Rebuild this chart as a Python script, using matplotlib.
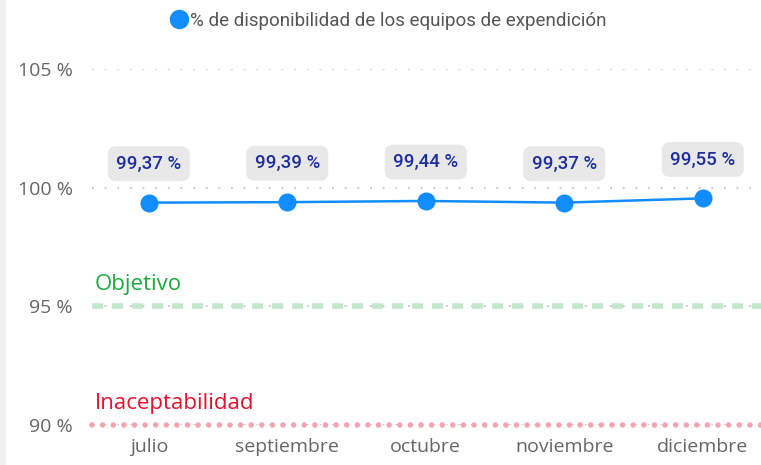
import matplotlib

matplotlib.use("Agg")

import matplotlib.pyplot as plt
import matplotlib.transforms as mtransforms
from matplotlib.patches import Rectangle
from matplotlib.lines import Line2D

# Datos del grafico
meses = ["julio", "septiembre", "octubre", "noviembre", "diciembre"]
disponibilidad = [99.37, 99.39, 99.44, 99.37, 99.55]
etiquetas = ["99,37 %", "99,39 %", "99,44 %", "99,37 %", "99,55 %"]
objetivo = 95
inaceptable = 90
y_ticks = [90, 95, 100, 105]
y_ticklabels = ["90 %", "95 %", "100 %", "105 %"]
leyenda = "% de disponibilidad de los equipos de expendición"

AZUL = "#118DFF"
GRIS_TEXTO = "#666666"

figura = plt.figure(figsize=(7.61, 4.65), dpi=100)
eje = figura.add_axes([0.1209, 0.086, 0.879, 0.7656])

# Franja gris del borde izquierdo
figura.patches.append(
    Rectangle((0, 0), 6 / 761, 1, transform=figura.transFigure,
              facecolor="#F0EFEE", edgecolor="none")
)

x = list(range(len(meses)))

eje.set_xlim(-0.41, 4.42)
eje.set_ylim(90, 105)

# Lineas de cuadricula punteadas
eje.set_yticks(y_ticks)
eje.set_yticklabels(y_ticklabels, fontsize=14, color=GRIS_TEXTO, family="Open Sans")
eje.yaxis.grid(True, linestyle=(0, (1, 6)), color="#C4C4C4", linewidth=1.3)
eje.set_axisbelow(True)

eje.set_xticks(x)
eje.set_xticklabels(meses, fontsize=14, color=GRIS_TEXTO, family="Open Sans")
eje.tick_params(axis="both", length=0)
eje.tick_params(axis="y", pad=14)
eje.tick_params(axis="x", pad=9)

for lado in eje.spines.values():
    lado.set_visible(False)

# Linea de objetivo (verde discontinua)
eje.axhline(objetivo, color="#C2E7CB", linewidth=4.0,
            linestyle=(0, (2, 1.6)), solid_capstyle="butt", zorder=2)
# Linea de inaceptabilidad (roja punteada)
eje.axhline(inaceptable, color="#F7A3B0", linewidth=4.0,
            linestyle=(0, (0.01, 1.9)), dash_capstyle="round", zorder=2,
            clip_on=False)

mezcla = mtransforms.blended_transform_factory(eje.transAxes, eje.transData)
eje.annotate("Objetivo", xy=(0.004, objetivo), xycoords=mezcla,
             xytext=(0, 8), textcoords="offset points",
             ha="left", va="bottom", fontsize=16, color="#1AAB40",
             family="Open Sans")
eje.annotate("Inaceptabilidad", xy=(0.004, inaceptable), xycoords=mezcla,
             xytext=(0, 8), textcoords="offset points",
             ha="left", va="bottom", fontsize=16, color="#E8112D",
             family="Open Sans")

# Serie principal
eje.plot(x, disponibilidad, color=AZUL, linewidth=1.8, marker="o",
         markersize=12, markerfacecolor=AZUL, markeredgecolor=AZUL, zorder=4)

for xi, yi, texto in zip(x, disponibilidad, etiquetas):
    eje.annotate(
        texto, xy=(xi, yi), xytext=(0, 28), textcoords="offset points",
        ha="center", va="center", fontsize=13.5, color="#1F2E9E",
        family="Roboto", fontweight="medium",
        bbox=dict(boxstyle="round,pad=0.45,rounding_size=0.45",
                  facecolor="#E8E8E8", edgecolor="none"),
        zorder=5,
    )

# Leyenda
marcador = Line2D([], [], color=AZUL, marker="o", linestyle="none",
                  markersize=13)
figura.legend([marcador], [leyenda], loc="center", bbox_to_anchor=(0.51, 0.955),
              frameon=False, handletextpad=0.1, handlelength=1.0,
              prop={"family": "Roboto", "size": 13.5}, labelcolor="#555555")

figura.savefig("out.png", dpi=100)
plt.close(figura)
